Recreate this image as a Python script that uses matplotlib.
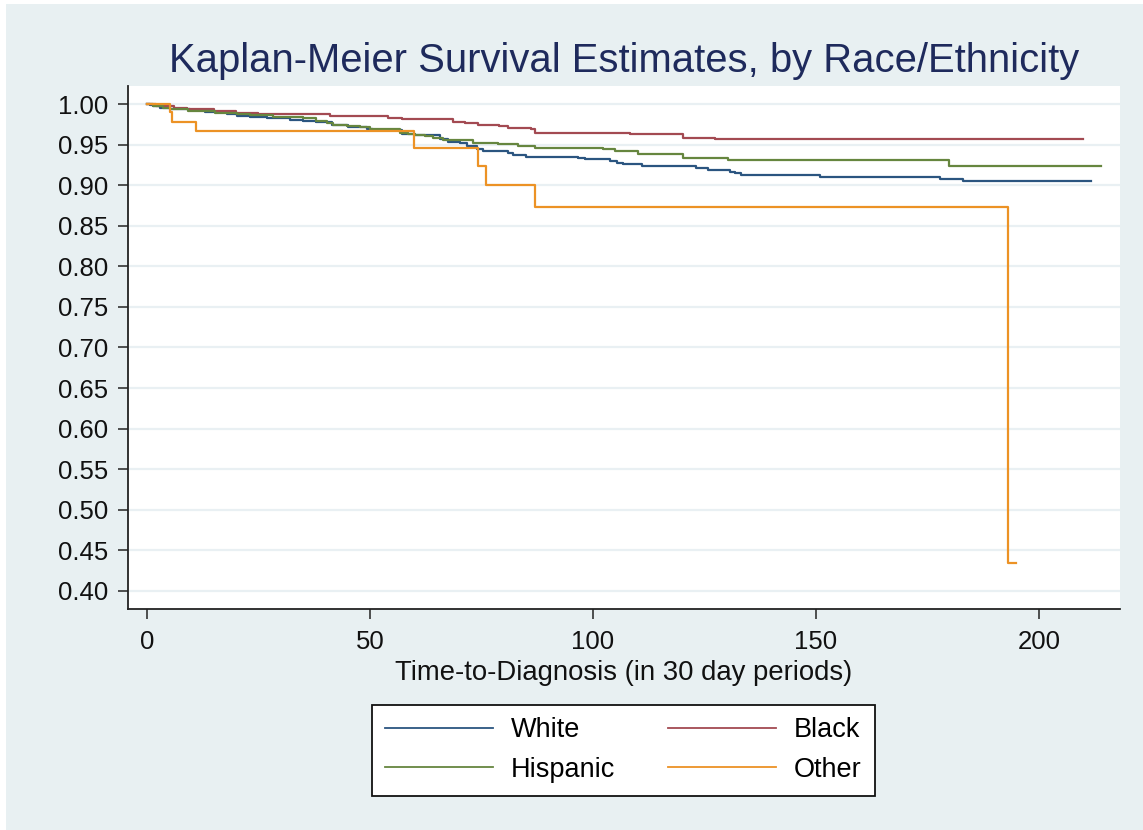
import matplotlib
matplotlib.use("Agg")
import matplotlib.pyplot as plt
from matplotlib.patches import Rectangle
import numpy as np

plt.rcParams['font.family'] = ['Liberation Sans', 'DejaVu Sans']

# ---- data ----
white_t = [0, 0.7, 1.4, 2.9, 5.2, 9.6, 13.0, 17.9, 20.1, 23.1, 26.8, 32.1, 35.0, 38.0,
           41.4, 44.0, 45.1, 49.3, 50.7, 57.1, 60.0, 65.7, 67.6, 70.2, 71.7, 73.9, 75.4,
           81.0, 82.1, 85.1, 96.7, 98.2, 103.8, 105.3, 106.8, 110.9, 123.2, 125.9, 130.7,
           131.8, 133.3, 150.9, 177.8, 183.0, 211.7]
white_s = [1.0, 0.999, 0.998, 0.996, 0.994, 0.993, 0.991, 0.988, 0.986, 0.984, 0.983, 0.981,
           0.980, 0.978, 0.975, 0.974, 0.972, 0.970, 0.968, 0.964, 0.962, 0.957, 0.954, 0.952,
           0.9486, 0.945, 0.9424, 0.940, 0.938, 0.9354, 0.934, 0.9325, 0.930, 0.928, 0.926,
           0.9235, 0.9214, 0.919, 0.917, 0.9156, 0.9132, 0.9107, 0.9082, 0.9057, 0.9057]

black_t = [0, 2, 6, 9, 15, 20, 25, 41, 54.1, 57.1, 68.7, 71.3, 74.3, 79, 81, 86.2, 87,
           108.3, 120.1, 127.4, 209.9]
black_s = [1.0, 0.998, 0.996, 0.994, 0.9917, 0.989, 0.9877, 0.986, 0.9835, 0.9815, 0.9786,
           0.9766, 0.975, 0.9736, 0.9711, 0.969, 0.965, 0.9633, 0.9588, 0.9568, 0.9568]

hisp_t = [0, 1.4, 3.5, 5.2, 9.3, 15.2, 20.1, 23.1, 28.3, 35.0, 38.0, 40.3, 41.8, 44.8, 47.8,
          50.0, 56.7, 58.5, 60.1, 62.3, 64.2, 66.4, 73.0, 78.8, 83.3, 87.0, 102.3, 104.9,
          110.2, 120.2, 130.3, 179.9, 213.9]
hisp_s = [1.0, 0.998, 0.996, 0.994, 0.9917, 0.989, 0.988, 0.9868, 0.9847, 0.983, 0.980,
          0.9773, 0.975, 0.9732, 0.9716, 0.969, 0.965, 0.964, 0.962, 0.9605, 0.9588, 0.9558,
          0.9527, 0.9507, 0.9486, 0.9465, 0.9445, 0.9424, 0.9383, 0.9341, 0.9317, 0.9239, 0.9239]

other_t = [0, 5.2, 5.7, 11.0, 59.8, 74.2, 76.0, 87.0, 193.0, 194.8]
other_s = [1.0, 0.990, 0.9785, 0.967, 0.9457, 0.9235, 0.9008, 0.873, 0.4345, 0.4345]

series_names = ["White", "Black", "Hispanic", "Other"]
series_colors = ["#2b5580", "#a34a52", "#66863f", "#ec9225"]

y_ticks = np.round(np.arange(0.40, 1.0001, 0.05), 2)
x_ticks = [0, 50, 100, 150, 200]

title = "Kaplan-Meier Survival Estimates, by Race/Ethnicity"
xlabel = "Time-to-Diagnosis (in 30 day periods)"

# ---- figure ----
W, H = 1143, 830
fig = plt.figure(figsize=(W / 100, H / 100), dpi=100)
fig.patch.set_facecolor("white")
bg = "#e8f0f2"
fig.patches.append(Rectangle((6 / W, 0), 1 - 6 / W, 1 - 4 / H, transform=fig.transFigure,
                             facecolor=bg, edgecolor="none", zorder=-10))

ax = fig.add_axes([128 / W, 1 - 609 / H, (1120 - 128) / W, (609 - 86) / H])
ax.set_facecolor("white")

data = [(white_t, white_s), (black_t, black_s), (hisp_t, hisp_s), (other_t, other_s)]
handles = []
for (t, s), name, col in zip(data, series_names, series_colors):
    ln, = ax.step(t, s, where="post", color=col, lw=1.6, label=name, zorder=3)
    handles.append(ln)

ax.set_xlim(-4.26, 218.2)
ax.set_ylim(0.3774, 1.0226)
ax.set_yticks(y_ticks)
ax.set_yticklabels([f"{v:.2f}" for v in y_ticks])
ax.set_xticks(x_ticks)
ax.set_xticklabels([str(v) for v in x_ticks])

ax.yaxis.grid(True, color="#e9f0f3", lw=1.6, zorder=0)
ax.xaxis.grid(False)
ax.set_axisbelow(True)

for side in ["top", "right"]:
    ax.spines[side].set_visible(False)
for side in ["left", "bottom"]:
    ax.spines[side].set_color("#222222")
    ax.spines[side].set_linewidth(1.3)

ax.tick_params(axis="both", direction="out", length=7.5, width=1.1, color="#222222",
               labelsize=18.5, labelcolor="#111111")
ax.tick_params(axis="y", pad=7)
ax.tick_params(axis="x", pad=7.5)

ax.set_xlabel(xlabel, fontsize=19.8, color="#111111", labelpad=4.5)
ax.set_title(title, fontsize=28.8, color="#1e2a5c", pad=10)

# legend: order White, Hispanic | Black, Other (column-wise)
order = [0, 2, 1, 3]
leg = fig.legend([handles[i] for i in order], [series_names[i] for i in order],
                 ncol=2, loc="center", bbox_to_anchor=((373 + 874) / 2 / W, 1 - (703 + 797) / 2 / H),
                 fontsize=19.5, frameon=True, fancybox=False, edgecolor="#111111",
                 facecolor="white", framealpha=1, handlelength=4.0, handletextpad=0.65,
                 columnspacing=1.95, labelspacing=0.5, borderpad=0.47)
leg.get_frame().set_linewidth(1.3)
for lh in leg.get_lines():
    lh.set_linewidth(1.3)

fig.savefig("out.png", dpi=100, facecolor=fig.get_facecolor())
